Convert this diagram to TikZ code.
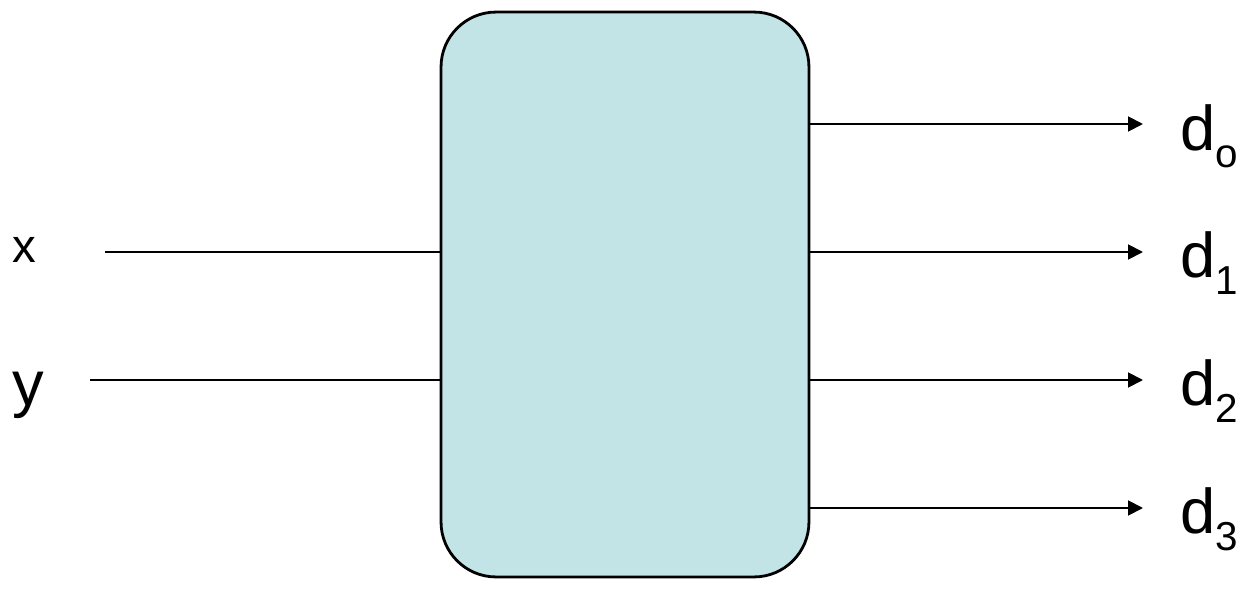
\documentclass[tikz,border=0pt]{standalone}
\usepackage{fontspec}
\setmainfont{Liberation Sans}
\usetikzlibrary{arrows.meta, positioning}
\definecolor{blockfill}{HTML}{C3E4E6}

\begin{document}
\begin{tikzpicture}[
  x=0.02cm, y=-0.02cm,
  block/.style={draw, line width=1.6pt, fill=blockfill, rounded corners=1.1cm, minimum width=7.36cm, minimum height=11.3cm, inner sep=0pt},
  wire/.style={line width=1.1pt},
  arr/.style={-{Triangle[length=8.5pt, width=8.5pt]}, line width=1.1pt},
  big/.style={font=\fontsize{36}{43}\selectfont, inner sep=0pt},
  small/.style={font=\fontsize{27}{32}\selectfont, inner sep=0pt}
]
\useasboundingbox (0,0) rectangle (1249,605);

% Block
\node[block] (blk) at (625,294.5) {};

% Inputs
\node[small, anchor=base] (inx) at (24,262) {x};
\node[big, anchor=base] (iny) at (28,405) {y};
\coordinate (sx) at (105,252);
\coordinate (sy) at (90,380);
\draw[wire] (sx) -- (blk.west |- sx);
\draw[wire] (sy) -- (blk.west |- sy);

% Outputs
\coordinate (t0) at (1143,124);
\coordinate (t1) at (1143,252);
\coordinate (t2) at (1143,380);
\coordinate (t3) at (1143,508);
\draw[arr] (blk.east |- t0) -- (t0);
\draw[arr] (blk.east |- t1) -- (t1);
\draw[arr] (blk.east |- t2) -- (t2);
\draw[arr] (blk.east |- t3) -- (t3);

\node[big, anchor=base west] (d0) at (1180,150) {d\raisebox{-9.7pt}{\fontsize{23}{28}\selectfont o}};
\node[big, anchor=base west] (d1) at (1180,277) {d\raisebox{-9.7pt}{\fontsize{23}{28}\selectfont 1}};
\node[big, anchor=base west] (d2) at (1180,405) {d\raisebox{-9.7pt}{\fontsize{23}{28}\selectfont 2}};
\node[big, anchor=base west] (d3) at (1180,533) {d\raisebox{-9.7pt}{\fontsize{23}{28}\selectfont 3}};

\end{tikzpicture}
\end{document}
